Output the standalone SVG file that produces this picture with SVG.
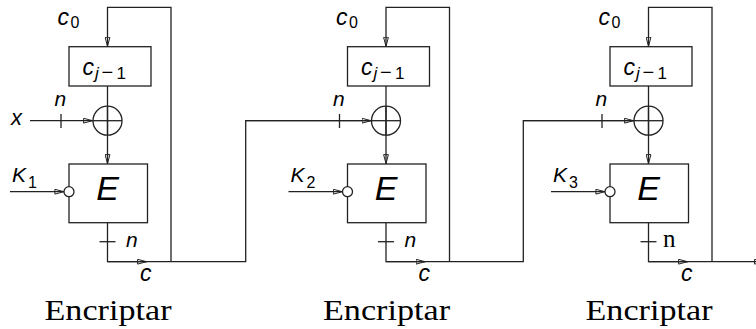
<svg xmlns="http://www.w3.org/2000/svg" width="756" height="329" viewBox="0 0 756 329">
<style>
.b{fill:#fff;stroke:#222;stroke-width:1.3}
.l{fill:none;stroke:#222;stroke-width:1.3}
.a{fill:none;stroke:#222;stroke-width:1.3;marker-end:url(#ah)}
.m{font-family:"Liberation Sans",Arial,sans-serif;font-style:italic;fill:#000}
.u{font-family:"Liberation Sans",Arial,sans-serif;fill:#000}
.s{font-family:"Liberation Serif","Times New Roman",serif;fill:#000}
</style>
<defs>
<marker id="ah" viewBox="0 0 10 6" refX="10" refY="3" markerWidth="10" markerHeight="6" markerUnits="userSpaceOnUse" orient="auto">
<path d="M0.6,0.6 L9.6,3 L0.6,5.4 z" fill="none" stroke="#222" stroke-width="1"/>
</marker>
</defs>

<g id="connectors">
<!-- stage 1 -->
<path class="a" d="M171,261.7 V7.3 H107.5 V46.7"/>
<path class="a" d="M107.5,86 V164"/>
<path class="a" d="M30,120.7 H93"/>
<line class="l" x1="61" y1="114" x2="61" y2="128"/>
<path class="a" d="M10,191.7 H64.3"/>
<path class="l" d="M107.5,222.7 V261.7 H245.7 V120.7 H371.5"/>
<path class="a" d="M107.5,261.7 H147"/>
<line class="l" x1="99.5" y1="241.7" x2="115.5" y2="241.7"/>
<path class="a" d="M245.7,120.7 H371.5"/>
<line class="l" x1="339.5" y1="114" x2="339.5" y2="128"/>
<!-- stage 2 -->
<path class="a" d="M449.5,261.7 V7.3 H386 V46.7"/>
<path class="a" d="M386,86 V164"/>
<path class="a" d="M288.5,191.7 H342.8"/>
<path class="l" d="M386,222.7 V261.7 H523.3 V120.7 H634"/>
<path class="a" d="M386,261.7 H425.5"/>
<line class="l" x1="378" y1="241.7" x2="394" y2="241.7"/>
<path class="a" d="M523.3,120.7 H634"/>
<line class="l" x1="602" y1="114" x2="602" y2="128"/>
<!-- stage 3 -->
<path class="a" d="M712,261.7 V7.3 H648.5 V46.7"/>
<path class="a" d="M648.5,86 V164"/>
<path class="a" d="M551,191.7 H605.3"/>
<path class="a" d="M648.5,222.7 V261.7 H764"/>
<path class="a" d="M648.5,261.7 H688"/>
<line class="l" x1="640.5" y1="241.7" x2="656.5" y2="241.7"/>
</g>

<!-- Stage 1 -->
<g id="s1-c0"><text class="m" x="57.5" y="24.5" font-size="23">c</text><text class="u" x="70.5" y="27.5" font-size="16">0</text></g>
<g id="s1-reg"><rect class="b" x="69" y="46.7" width="82" height="39.3"/><text class="m" x="82.5" y="75" font-size="23">c</text><text class="m" x="95" y="79" font-size="17">j</text><text class="u" x="101.5" y="79" font-size="20">−</text><text class="u" x="116.5" y="79" font-size="17">1</text></g>
<g id="s1-xor"><circle class="l" cx="107.5" cy="120.7" r="14.5"/><line class="l" x1="93" y1="120.7" x2="122" y2="120.7"/><line class="l" x1="107.5" y1="106.2" x2="107.5" y2="135.2"/></g>
<g id="s1-x"><text class="m" x="11" y="124.5" font-size="22">x</text><text class="m" x="54.5" y="106" font-size="21">n</text></g>
<g id="s1-E"><rect class="b" x="69" y="164" width="78.5" height="58.7"/><circle class="b" cx="69" cy="191.7" r="5"/><text class="m" x="107.5" y="199.5" font-size="34" text-anchor="middle">E</text></g>
<g id="s1-K"><text class="m" x="12" y="182" font-size="21">K</text><text class="u" x="28" y="188.3" font-size="16">1</text></g>
<g id="s1-out"><text class="m" x="126" y="247" font-size="21">n</text><text class="m" x="140" y="281" font-size="23">c</text><text class="s" x="108" y="320" font-size="30" text-anchor="middle" textLength="127" lengthAdjust="spacingAndGlyphs">Encriptar</text></g>

<!-- Stage 2 -->
<g id="s2-c0"><text class="m" x="336" y="24.5" font-size="23">c</text><text class="u" x="349" y="27.5" font-size="16">0</text></g>
<g id="s2-reg"><rect class="b" x="347.5" y="46.7" width="82" height="39.3"/><text class="m" x="361" y="75" font-size="23">c</text><text class="m" x="373.5" y="79" font-size="17">j</text><text class="u" x="380" y="79" font-size="20">−</text><text class="u" x="395" y="79" font-size="17">1</text></g>
<g id="s2-xor"><circle class="l" cx="386" cy="120.7" r="14.5"/><line class="l" x1="371.5" y1="120.7" x2="400.5" y2="120.7"/><line class="l" x1="386" y1="106.2" x2="386" y2="135.2"/></g>
<g id="s2-n"><text class="m" x="333" y="106" font-size="21">n</text></g>
<g id="s2-E"><rect class="b" x="347.5" y="164" width="78.5" height="58.7"/><circle class="b" cx="347.5" cy="191.7" r="5"/><text class="m" x="386" y="199.5" font-size="34" text-anchor="middle">E</text></g>
<g id="s2-K"><text class="m" x="290.5" y="182" font-size="21">K</text><text class="u" x="306.5" y="188.3" font-size="16">2</text></g>
<g id="s2-out"><text class="m" x="404.5" y="247" font-size="21">n</text><text class="m" x="418.5" y="281" font-size="23">c</text><text class="s" x="386.5" y="320" font-size="30" text-anchor="middle" textLength="127" lengthAdjust="spacingAndGlyphs">Encriptar</text></g>

<!-- Stage 3 -->
<g id="s3-c0"><text class="m" x="598.5" y="24.5" font-size="23">c</text><text class="u" x="611.5" y="27.5" font-size="16">0</text></g>
<g id="s3-reg"><rect class="b" x="610" y="46.7" width="82" height="39.3"/><text class="m" x="623.5" y="75" font-size="23">c</text><text class="m" x="636" y="79" font-size="17">j</text><text class="u" x="642.5" y="79" font-size="20">−</text><text class="u" x="657.5" y="79" font-size="17">1</text></g>
<g id="s3-xor"><circle class="l" cx="648.5" cy="120.7" r="14.5"/><line class="l" x1="634" y1="120.7" x2="663" y2="120.7"/><line class="l" x1="648.5" y1="106.2" x2="648.5" y2="135.2"/></g>
<g id="s3-n"><text class="m" x="595.5" y="106" font-size="21">n</text></g>
<g id="s3-E"><rect class="b" x="610" y="164" width="78.5" height="58.7"/><circle class="b" cx="610" cy="191.7" r="5"/><text class="m" x="648.5" y="199.5" font-size="34" text-anchor="middle">E</text></g>
<g id="s3-K"><text class="m" x="553" y="182" font-size="21">K</text><text class="u" x="569" y="188.3" font-size="16">3</text></g>
<g id="s3-out"><text class="s" x="663" y="247" font-size="25">n</text><text class="m" x="681" y="281" font-size="23">c</text><text class="s" x="649" y="320" font-size="30" text-anchor="middle" textLength="127" lengthAdjust="spacingAndGlyphs">Encriptar</text></g>
</svg>
